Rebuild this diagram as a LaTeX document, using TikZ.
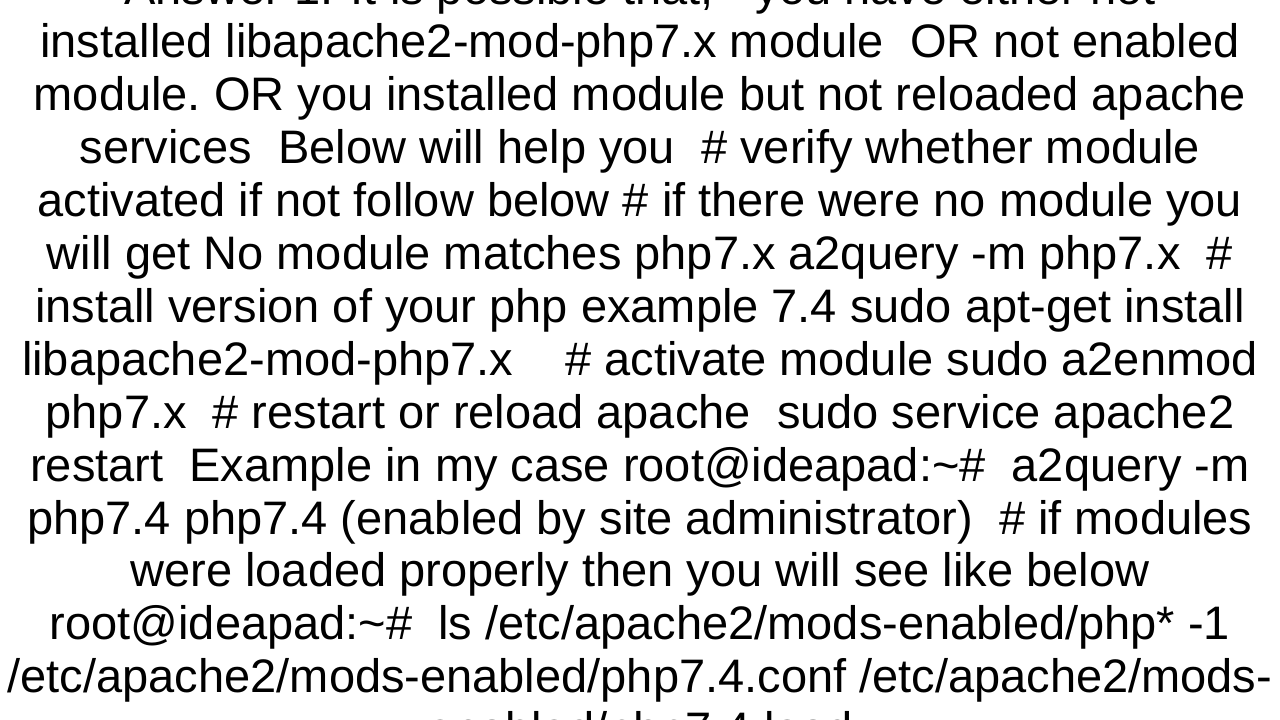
\documentclass[tikz,border=0pt]{standalone}
\usepackage{fontspec}
\setmainfont{Liberation Sans}
\begin{document}
\begin{tikzpicture}[x=1pt,y=-1pt,ln/.style={anchor=base,inner sep=0pt,font=\fontsize{47}{52}\selectfont}]
\useasboundingbox (0,0) rectangle (1280,720);
\clip (0,0) rectangle (1280,720);
\fill[white] (0,0) rectangle (1280,720);
\foreach \t [count=\i from 0] in {
{Answer 1: It is possible that, - you have either not},
installed libapache2-mod-php7.x module\ \ OR not enabled,
module.\ OR you installed module but not reloaded apache,
services\ \ Below will help you\ \ \# verify whether module,
activated if not follow below \# if there were no module you,
will get No module matches php7.x a2query -m php7.x\ \ \#,
install version of your php example 7.4 sudo apt-get install,
libapache2-mod-php7.x\ \ \ \ \# activate module sudo a2enmod,
php7.x\ \ \# restart or reload apache\ \ sudo service apache2,
restart\ \ Example in my case root@ideapad:\string~\#\ \ a2query -m,
php7.4 php7.4 (enabled by site administrator)\ \ \# if modules,
were loaded properly then you will see like below,
root@ideapad:\string~\#\ \ ls /etc/apache2/mods-enabled/php* -1,
/etc/apache2/mods-enabled/php7.4.conf /etc/apache2/mods-,
enabled/php7.4.load}
{\node[ln] (l\i) at (640,{5+52.9*\i}) {\t};}
\end{tikzpicture}
\end{document}
